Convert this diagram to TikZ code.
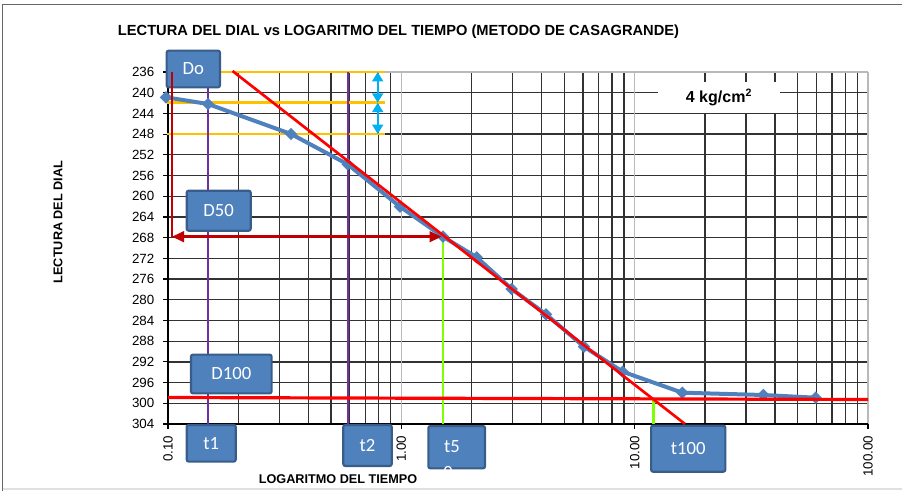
\documentclass[tikz,border=0pt]{standalone}
\usepackage{fontspec}
\setmainfont{Liberation Sans}
\newfontfamily\calibri{Carlito}
\usetikzlibrary{shapes.geometric, arrows.meta, positioning, calc}
\definecolor{chblue}{RGB}{79,129,189}
\definecolor{chblueline}{RGB}{56,93,138}
\definecolor{chorange}{RGB}{255,192,0}
\definecolor{chcyan}{RGB}{0,176,240}
\definecolor{chred}{RGB}{255,0,0}
\definecolor{chdarkred}{RGB}{192,0,0}
\definecolor{chpurple}{RGB}{112,48,160}
\definecolor{chgreen}{RGB}{128,255,0}
\definecolor{chgrid}{RGB}{50,50,50}
\definecolor{chmajor}{RGB}{185,185,185}

\tikzset{
  tag/.style={draw=chblueline, line width=1.6pt, fill=chblue, rounded corners=1.5pt,
    text=white, font=\calibri\fontsize{14}{16}\selectfont, inner sep=0pt},
  gridline/.style={chgrid, line width=1pt},
  majorline/.style={chmajor, line width=1pt},
  ticklab/.style={font=\fontsize{10}{12}\selectfont},
  axistitle/.style={font=\bfseries\fontsize{9.5}{11}\selectfont},
  series/.style={chblue, line width=3pt, line join=round},
  datapt/.style={shape=diamond, fill=chblue, inner sep=0pt, minimum size=9.5pt},
  guide/.style={line width=2pt},
}

\begin{document}
\begin{tikzpicture}[x=0.75pt, y=-0.75pt]
\useasboundingbox (0,0) rectangle (902,491);

% Frame
\draw[black!60, line width=1pt] (2.5,491) -- (2.5,4.5) -- (905,4.5);
\draw[black!12, line width=1pt] (2.5,489) -- (905,489);

% Title
\node[font=\bfseries\fontsize{11}{13}\selectfont] (title) at (398.5,32)
  {LECTURA DEL DIAL vs LOGARITMO DEL TIEMPO (METODO DE CASAGRANDE)};

% Grid
\foreach \k in {1,...,16}
  \draw[gridline] (168,{72+\k*20.706}) -- (868,{72+\k*20.706});
\foreach \d in {0,1,2}
  \foreach \k in {2,...,9}
    \draw[gridline] ({168+233.33*(\d+log10(\k))},72) -- ({168+233.33*(\d+log10(\k))},424);
\foreach \d in {1,2,3}
  \draw[majorline] ({168+233.33*\d},72) -- ({168+233.33*\d},424);
\draw[majorline] (168,72) -- (868,72);

% Axes
\draw[black, line width=0.9pt] (168,72) -- (168,424) -- (868,424);
\foreach \v [count=\k from 0] in {236,240,...,304} {
  \draw[black, line width=0.9pt] (163,{72+\k*20.706}) -- (168,{72+\k*20.706});
  \node[ticklab, anchor=east] at (159,{72+\k*20.706}) {\v};
}
\foreach \lab [count=\d from 0] in {0.10,1.00,10.00,100.00} {
  \draw[black, line width=0.9pt] ({168+233.33*\d},424) -- ({168+233.33*\d},429);
  \node[ticklab, rotate=90, anchor=east] at ({168+233.33*\d},431) {\lab};
}
\node[axistitle, rotate=90] (ytitle) at (58,222) {LECTURA DEL DIAL};
\node[axistitle] (xtitle) at (338,479) {LOGARITMO DEL TIEMPO};

% Load
\node[fill=white, minimum width=91.5pt, minimum height=23.25pt, inner sep=0pt,
  font=\bfseries\fontsize{12}{14}\selectfont] (load) at (719,97.5) {4 kg/cm\textsuperscript{2}};

% Readings
\coordinate (o1) at (167,72);    \coordinate (o1e) at (385,72);
\coordinate (o2) at (167,102.7); \coordinate (o2e) at (385,102.7);
\coordinate (o3) at (167,134);   \coordinate (o3e) at (385,134);
\draw[chorange, guide] (o1) -- (o1e);
\draw[chorange, guide] (o2) -- (o2e);
\draw[chorange, guide] (o3) -- (o3e);

% Times
\coordinate (t1a) at (208,72);  \coordinate (t1b) at (208,424);
\coordinate (t2a) at (348,72);  \coordinate (t2b) at (348,424);
\coordinate (t5a) at (443,237); \coordinate (t5b) at (443,424);
\coordinate (tca) at (653.3,398.5); \coordinate (tcb) at (653.3,424);
\draw[chpurple, guide] (t1a) -- (t1b);
\draw[chpurple, guide] (t2a) -- (t2b);
\draw[chgreen, guide] (t5a) -- (t5b);
\draw[chgreen, guide] (tca) -- (tcb);

% Curve
\coordinate (p1) at (166,97.3);
\coordinate (p2) at (208,104);
\coordinate (p3) at (291,134);
\coordinate (p4) at (347.7,164.3);
\coordinate (p5) at (400,206.7);
\coordinate (p6) at (443,236.7);
\coordinate (p7) at (476.7,257.3);
\coordinate (p8) at (511.7,289);
\coordinate (p9) at (546,314.3);
\coordinate (p10) at (584,346.7);
\coordinate (p11) at (622.7,371.7);
\coordinate (p12) at (682.3,392.7);
\coordinate (p13) at (763.3,395);
\coordinate (p14) at (815.7,397.7);
\draw[series] (p1) \foreach \i in {2,...,14} {-- (p\i)};
\foreach \i in {1,...,14}
  \node[datapt] (m\i) at (p\i) {};

% Tangents
\coordinate (tanA) at (232.5,71);  \coordinate (tanB) at (685,424);
\coordinate (hA) at (168,397.5);   \coordinate (hB) at (868,399.5);
\draw[chred, line width=2pt] (tanA) -- (tanB);
\draw[chred, line width=2.4pt] (hA) -- (hB);

% Labels
\node[tag, minimum width=40pt, minimum height=27.5pt] (do) at (193.3,69) {Do};
\node[tag, minimum width=48pt, minimum height=30pt] (dfifty) at (218.7,210.7) {D50};
\node[tag, minimum width=60.5pt, minimum height=29pt] (dhundred) at (231.3,374) {D100};
\node[tag, minimum width=36.75pt, minimum height=27.5pt] (tone) at (211.2,443.3) {t1};
\node[tag, minimum width=36.3pt, minimum height=30.75pt] (ttwo) at (367.5,445.5) {t2};
\node[tag, minimum width=42.5pt, minimum height=31.7pt] (tfifty) at (456.7,447.2) {};
\node[text=white, font=\calibri\fontsize{14}{16}\selectfont] (tfiftytxt) at (452,447) {t5};
\begin{scope}
  \clip (428,463) rectangle (485,471);
  \node[text=white, font=\calibri\fontsize{14}{16}\selectfont] (tfiftyzero) at (448,473) {0};
\end{scope}
\node[tag, minimum width=55.7pt, minimum height=34.5pt] (thundred) at (688.2,448.7) {t100};

% D50 construction
\coordinate (d0) at (172,72.5);
\coordinate (dc) at (172,236.7);
\coordinate (de) at (441.5,236.7);
\draw[chdarkred, line width=1.8pt] (d0) -- (dc);
\draw[chdarkred, line width=1.8pt, {Triangle[length=9pt,width=8pt]}-{Triangle[length=9pt,width=8pt]}] (dc) -- (de);

% Equal steps
\coordinate (c1) at (377.7,72);
\coordinate (c2) at (377.7,102.7);
\coordinate (c3) at (377.7,134);
\draw[chcyan, line width=1.8pt, {Triangle[length=7pt,width=8pt]}-{Triangle[length=7pt,width=8pt]}] (c1) -- (c2);
\draw[chcyan, line width=1.8pt, {Triangle[length=7pt,width=8pt]}-{Triangle[length=7pt,width=8pt]}] (c2) -- (c3);
\end{tikzpicture}
\end{document}
